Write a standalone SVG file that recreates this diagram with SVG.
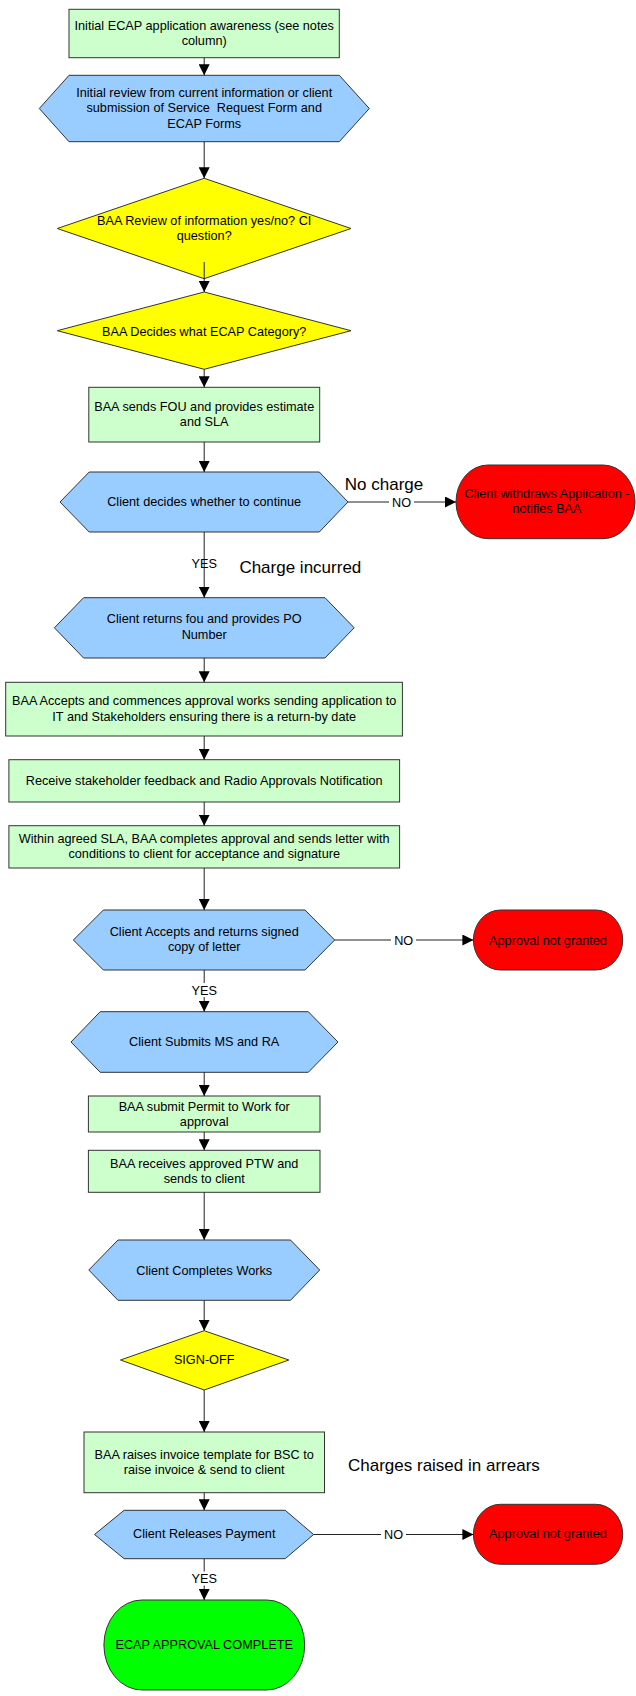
<svg xmlns="http://www.w3.org/2000/svg" width="636" height="1696" viewBox="0 0 636 1696">
<style>
text{font-family:"Liberation Sans",Arial,sans-serif;font-size:12.7px;fill:#000;text-anchor:middle}
.big{font-size:17px;text-anchor:start}
.proc{fill:#CCFFCC;stroke:#333;stroke-width:1}
.hex{fill:#99CCFF;stroke:#333;stroke-width:1}
.dec{fill:#FFFF00;stroke:#333;stroke-width:1}
.stop{fill:#FF0000;stroke:#333;stroke-width:1}
.done{fill:#00FF00;stroke:#333;stroke-width:1}
.edge{stroke:#222;stroke-width:1;fill:none;marker-end:url(#ah)}
.lblbg{fill:#fff}
</style>
<defs>
<marker id="ah" markerWidth="11" markerHeight="11" refX="11" refY="5.5" orient="auto" markerUnits="userSpaceOnUse">
<path d="M0,0 L11,5.5 L0,11 z" fill="#000"/>
</marker>
</defs>
<rect width="636" height="1696" fill="#fff"/>

<g id="n1"><rect class="proc" x="69" y="9.3" width="270.3" height="48.4"/>
<text x="204.2" y="29.5">Initial ECAP application awareness (see notes</text>
<text x="204.2" y="44.5">column)</text></g>

<g id="n2"><polygon class="hex" points="39.3,108.5 69,75.3 339.3,75.3 369.3,108.5 339.3,141.7 69,141.7"/>
<text x="204.2" y="97">Initial review from current information or client</text>
<text x="204.2" y="112">submission of Service &#160;Request Form and</text>
<text x="204.2" y="127.5">ECAP Forms</text></g>

<g id="n3"><polygon class="dec" points="57.3,228.5 204.2,178.3 351,228.5 204.2,278.7"/>
<text x="204.2" y="224.5">BAA Review of information yes/no? CI</text>
<text x="204.2" y="240">question?</text></g>

<g id="n4"><polygon class="dec" points="57.3,330.7 204.2,292 351,330.7 204.2,369.3"/>
<text x="204.2" y="335.5">BAA Decides what ECAP Category?</text></g>

<g id="n5"><rect class="proc" x="88.8" y="387.3" width="230.9" height="54.7"/>
<text x="204.2" y="410.5">BAA sends FOU and provides estimate</text>
<text x="204.2" y="426">and SLA</text></g>

<g id="n6"><polygon class="hex" points="60,502 89.2,472 319.3,472 348,502 319.3,532 89.2,532"/>
<text x="204.2" y="506">Client decides whether to continue</text></g>

<g id="n7"><rect class="stop" x="456" y="465" width="179" height="73.7" rx="32" ry="36.8"/>
<text x="547" y="498">Client withdraws Application -</text>
<text x="547" y="513">notifies BAA</text></g>

<g id="n8"><polygon class="hex" points="54.4,627.8 83.6,597.7 325,597.7 354.2,627.8 325,658 83.6,658"/>
<text x="204.2" y="623">Client returns fou and provides PO</text>
<text x="204.2" y="638.5">Number</text></g>

<g id="n9"><rect class="proc" x="5.7" y="682.3" width="396.7" height="53.7"/>
<text x="204.2" y="705">BAA Accepts and commences approval works sending application to</text>
<text x="204.2" y="720.5">IT and Stakeholders ensuring there is a return-by date</text></g>

<g id="n10"><rect class="proc" x="8.9" y="759.7" width="390.7" height="42.3"/>
<text x="204.2" y="784.5">Receive stakeholder feedback and Radio Approvals Notification</text></g>

<g id="n11"><rect class="proc" x="8.9" y="825.7" width="390.7" height="42.3"/>
<text x="204.2" y="843">Within agreed SLA, BAA completes approval and sends letter with</text>
<text x="204.2" y="858">conditions to client for acceptance and signature</text></g>

<g id="n12"><polygon class="hex" points="73.4,940 103.4,910 305,910 334.7,940 305,970 103.4,970"/>
<text x="204.2" y="935.5">Client Accepts and returns signed</text>
<text x="204.2" y="951">copy of letter</text></g>

<g id="n13"><rect class="stop" x="473.4" y="910" width="149.3" height="60" rx="27" ry="30"/>
<text x="548" y="944.5">Approval not granted</text></g>

<g id="n14"><polygon class="hex" points="71,1042 100.2,1011.7 308.3,1011.7 338,1042 308.3,1072.3 100.2,1072.3"/>
<text x="204.2" y="1046">Client Submits MS and RA</text></g>

<g id="n15"><rect class="proc" x="88.4" y="1096" width="231.6" height="36"/>
<text x="204.2" y="1110.5">BAA submit Permit to Work for</text>
<text x="204.2" y="1125.5">approval</text></g>

<g id="n16"><rect class="proc" x="88.4" y="1150.3" width="231.6" height="42"/>
<text x="204.2" y="1167.5">BAA receives approved PTW and</text>
<text x="204.2" y="1182.5">sends to client</text></g>

<g id="n17"><polygon class="hex" points="88.8,1270 118,1240 290.5,1240 319.7,1270 290.5,1300.3 118,1300.3"/>
<text x="204.2" y="1274.5">Client Completes Works</text></g>

<g id="n18"><polygon class="dec" points="120.5,1360 204.2,1330.7 288.8,1360 204.2,1390"/>
<text x="204.2" y="1363.5">SIGN-OFF</text></g>

<g id="n19"><rect class="proc" x="84" y="1432" width="240.5" height="60.7"/>
<text x="204.2" y="1458.5">BAA raises invoice template for BSC to</text>
<text x="204.2" y="1473.5">raise invoice &amp; send to client</text></g>

<g id="n20"><polygon class="hex" points="94.5,1534.5 124.1,1510.3 285.2,1510.3 313.6,1534.5 285.2,1558.7 124.1,1558.7"/>
<text x="204.2" y="1538">Client Releases Payment</text></g>

<g id="n21"><rect class="stop" x="473.4" y="1504.3" width="149.3" height="60" rx="27" ry="30"/>
<text x="548" y="1538">Approval not granted</text></g>

<g id="n22"><rect class="done" x="103.9" y="1600" width="200.8" height="90" rx="38" ry="45"/>
<text x="204.2" y="1648.5">ECAP APPROVAL COMPLETE</text></g>

<g id="notes">
<text class="big" x="344.8" y="489.5">No charge</text>
<text class="big" x="239.4" y="572.7">Charge incurred</text>
<text class="big" x="348" y="1471">Charges raised in arrears</text>
</g>

<g id="connectors">
<line class="edge" x1="204.2" y1="57.7" x2="204.2" y2="75.3"/>
<line class="edge" x1="204.2" y1="141.7" x2="204.2" y2="178.3"/>
<line class="edge" x1="204.2" y1="262" x2="204.2" y2="292"/>
<line class="edge" x1="204.2" y1="369.3" x2="204.2" y2="387.3"/>
<line class="edge" x1="204.2" y1="442" x2="204.2" y2="472"/>
<line class="edge" x1="348" y1="502" x2="456" y2="502"/>
<line class="edge" x1="204.2" y1="532" x2="204.2" y2="597.7"/>
<line class="edge" x1="204.2" y1="658" x2="204.2" y2="682.3"/>
<line class="edge" x1="204.2" y1="736" x2="204.2" y2="759.7"/>
<line class="edge" x1="204.2" y1="802" x2="204.2" y2="825.7"/>
<line class="edge" x1="204.2" y1="868" x2="204.2" y2="910"/>
<line class="edge" x1="334.7" y1="940" x2="473.4" y2="940"/>
<line class="edge" x1="204.2" y1="970" x2="204.2" y2="1011.7"/>
<line class="edge" x1="204.2" y1="1072.3" x2="204.2" y2="1096"/>
<line class="edge" x1="204.2" y1="1132" x2="204.2" y2="1150.3"/>
<line class="edge" x1="204.2" y1="1192.3" x2="204.2" y2="1240"/>
<line class="edge" x1="204.2" y1="1300.3" x2="204.2" y2="1330.7"/>
<line class="edge" x1="204.2" y1="1390" x2="204.2" y2="1432"/>
<line class="edge" x1="204.2" y1="1492.7" x2="204.2" y2="1510.3"/>
<line class="edge" x1="313.6" y1="1534.5" x2="473.4" y2="1534.5"/>
<line class="edge" x1="204.2" y1="1558.7" x2="204.2" y2="1600"/>
<g id="edge-labels">
<rect class="lblbg" x="389" y="495" width="25" height="14"/>
<text x="401.6" y="506.5">NO</text>
<text x="204.2" y="568">YES</text>
<rect class="lblbg" x="391" y="933" width="25" height="14"/>
<text x="403.7" y="944.5">NO</text>
<rect class="lblbg" x="189" y="983" width="30" height="14"/>
<text x="204.2" y="994.5">YES</text>
<rect class="lblbg" x="381" y="1527" width="25" height="14"/>
<text x="393.5" y="1539">NO</text>
<rect class="lblbg" x="189" y="1571.5" width="30" height="14"/>
<text x="204.2" y="1583">YES</text>
</g>
</g>
</svg>
